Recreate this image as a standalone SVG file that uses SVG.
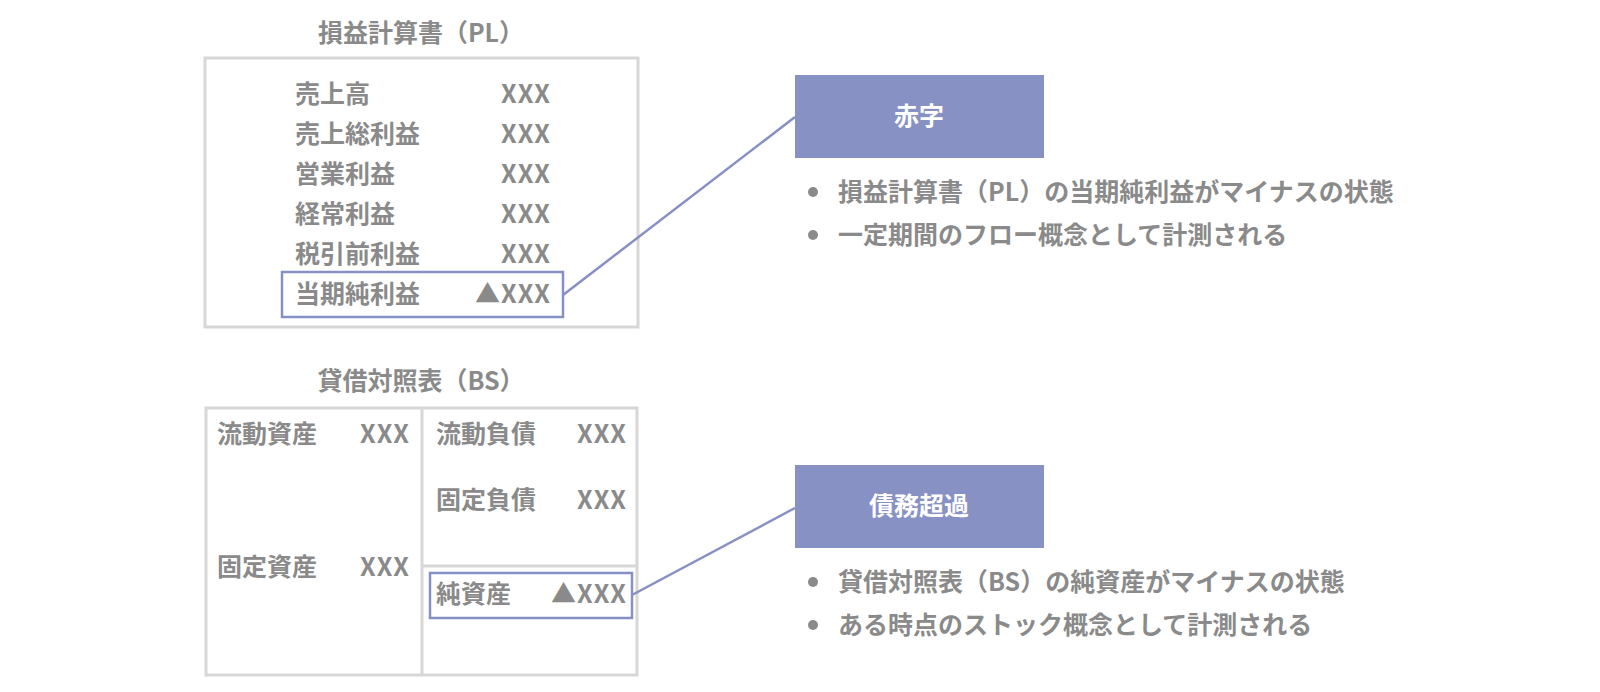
<svg xmlns="http://www.w3.org/2000/svg" width="1600" height="692" viewBox="0 0 1600 692">
<style>
text{font-family:"Noto Sans CJK JP","Noto Sans",sans-serif;font-weight:bold;fill:#8a8a8a;font-size:25px}
.r{text-anchor:end;letter-spacing:1px}
.c{text-anchor:middle}
.w{fill:#ffffff}
.frame{fill:#ffffff;stroke:#d7d7d7;stroke-width:3}
.div{stroke:#d7d7d7;stroke-width:3}
.hl{fill:none;stroke:#8790c4;stroke-width:2.5}
.tag{fill:#8891c4}
.dot{fill:#8a8a8a}
.conn{stroke:#8790c4;stroke-width:2.5;fill:none}
</style>
<rect width="1600" height="692" fill="#ffffff"/>
<g id="pl">
<text class="c" x="421" y="42">損益計算書（PL）</text>
<rect class="frame" x="205" y="58" width="433" height="269"/>
<text x="295" y="103">売上高</text><text class="r" x="551" y="103">XXX</text>
<text x="295" y="143">売上総利益</text><text class="r" x="551" y="143">XXX</text>
<text x="295" y="183">営業利益</text><text class="r" x="551" y="183">XXX</text>
<text x="295" y="223">経常利益</text><text class="r" x="551" y="223">XXX</text>
<text x="295" y="263">税引前利益</text><text class="r" x="551" y="263">XXX</text>
<rect class="hl" x="282" y="272" width="281" height="45"/>
<text x="295" y="303">当期純利益</text><text class="r" x="551" y="303">▲XXX</text>
</g>
<g id="bs">
<text class="c" x="421" y="390">貸借対照表（BS）</text>
<rect class="frame" x="206" y="408" width="431" height="267"/>
<line class="div" x1="422" y1="408" x2="422" y2="675"/>
<line class="div" x1="422" y1="566" x2="637" y2="566"/>
<text x="217" y="443">流動資産</text><text class="r" x="410" y="443">XXX</text>
<text x="217" y="576">固定資産</text><text class="r" x="410" y="576">XXX</text>
<text x="436" y="443">流動負債</text><text class="r" x="627" y="443">XXX</text>
<text x="436" y="509">固定負債</text><text class="r" x="627" y="509">XXX</text>
<rect class="hl" x="430" y="573" width="202" height="45"/>
<text x="436" y="603">純資産</text><text class="r" x="627" y="603">▲XXX</text>
</g>
<g id="akaji">
<rect class="tag" x="795" y="75" width="249" height="83"/>
<text class="c w" x="919" y="125">赤字</text>
<circle class="dot" cx="813" cy="192" r="5"/>
<text x="838" y="201">損益計算書（PL）の当期純利益がマイナスの状態</text>
<circle class="dot" cx="813" cy="235" r="5"/>
<text x="838" y="244">一定期間のフロー概念として計測される</text>
</g>
<g id="saimu">
<rect class="tag" x="795" y="465" width="249" height="83"/>
<text class="c w" x="919" y="515">債務超過</text>
<circle class="dot" cx="813" cy="582" r="5"/>
<text x="838" y="591">貸借対照表（BS）の純資産がマイナスの状態</text>
<circle class="dot" cx="813" cy="625" r="5"/>
<text x="838" y="634">ある時点のストック概念として計測される</text>
</g>
<g id="connectors">
<line class="conn" x1="563" y1="295" x2="795" y2="117"/>
<line class="conn" x1="632" y1="595" x2="795" y2="508"/>
</g>
</svg>
